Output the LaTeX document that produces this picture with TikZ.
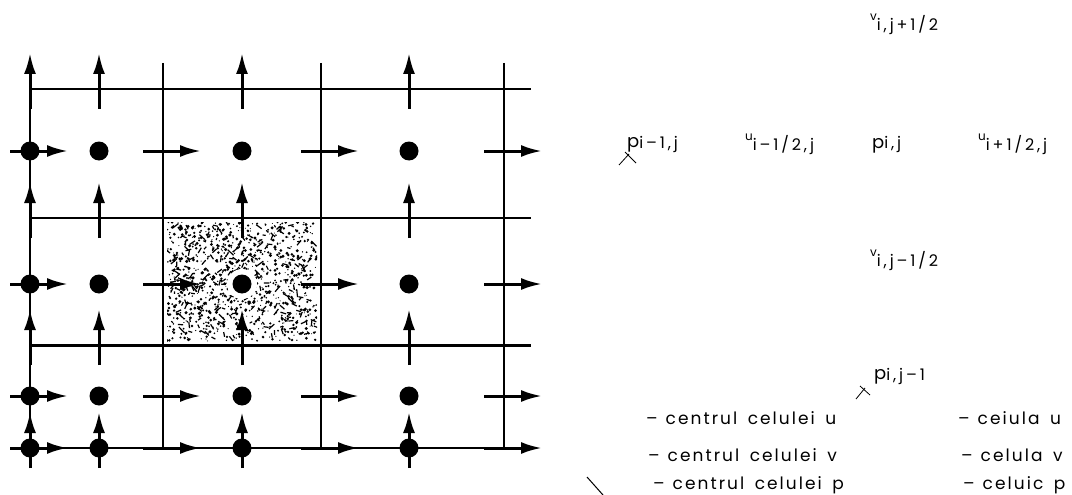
\documentclass[tikz,border=0pt]{standalone}
\usepackage{fontspec}
\setmainfont{Poppins}
\newfontfamily\cad[LetterSpace=18]{Poppins}
\newfontfamily\cadleg[LetterSpace=12,WordSpace=1.6]{Poppins}
\usetikzlibrary{arrows.meta}
\newcommand\Lsub[2]{{\fontsize{18}{18}\selectfont #1}{\fontsize{16}{16}\selectfont\raisebox{-1pt}{#2}}}
\newcommand\Lsup[2]{\raisebox{10pt}{\fontsize{12}{12}\selectfont #1}{\fontsize{16}{16}\selectfont #2}}
\tikzset{
  gridline/.style={line width=2pt},
  flow/.style={line width=3pt,-{Latex[length=21pt,width=12pt]}},
  lab/.style={anchor=base west,inner sep=0pt,font=\cad},
  leg/.style={anchor=base west,inner sep=0pt,font=\cadleg\fontsize{17}{17}\selectfont},
  xmark/.style={line width=0.8pt},
}
\begin{document}
\begin{tikzpicture}[x=1pt,y=-1pt]
\useasboundingbox (0,0) rectangle (1072,495);
% speckled cell
\pgfmathsetseed{11}
\begin{scope}
\clip (167,222) rectangle (317,341);
\foreach \k in {1,...,900}{
  \fill ({167+150*rnd},{222+119*rnd}) circle ({0.5+1.2*rnd});
}
\foreach \k in {1,...,250}{
  \draw[line width=1.2pt] ({170+145*rnd},{225+113*rnd}) -- ++({6*rand},{6*rand});
}
\end{scope}
\fill[white] (242,284) circle (15);
% grid lines
\draw[line width=2.5pt] (30,468) -- (30,60);
\foreach \y in {89,218}{\draw[gridline] (32,\y) -- (531,\y);}
\draw[line width=3pt] (32,345) -- (531,345);
\draw[line width=2.5pt] (10,448) -- (530,448);
\foreach \x in {163,321,504}{\draw[gridline] (\x,63) -- (\x,448);}
% v arrows
\foreach \c in {30,99,242,409}{
  \foreach \y in {89,218,345,448}{
    \draw[flow] (\c,\y+20) -- (\c,\y-36);
  }
}
% u arrows
\foreach \x in {30,163,321,504}{
  \foreach \r in {151,284,396,448}{
    \draw[flow] (\x-20,\r) -- (\x+38,\r);
  }
}
% p points
\foreach \c in {30,99,242,409}{
  \foreach \r in {151,284,396,448}{
    \fill (\c,\r) circle (9.5);
  }
}
% labels
\node[lab] (vup) at (870,31) {\Lsup{v}{i,j+1/2}};
\node[lab] (pim) at (627,147) {\Lsub{p}{i–1,j}};
\node[lab] (uim) at (745,150) {\Lsup{u}{i–1/2,j}};
\node[lab] (pij) at (872,148) {\Lsub{p}{i,j}};
\node[lab] (uip) at (978,150) {\Lsup{u}{i+1/2,j}};
\node[lab] (vdn) at (870,266) {\Lsup{v}{i,j–1/2}};
\node[lab] (pjm) at (874,379) {\Lsub{p}{i,j–1}};
\draw[xmark] (619,165) -- (629,154);
\draw[xmark] (625,152) -- (636,163);
\draw[xmark] (856,399) -- (865,388);
\draw[xmark] (860,386) -- (870,395);
% legend
\node[leg] (l1) at (646,424) {–\hspace{8pt}centrul celulei u};
\node[leg] (l2) at (648,461) {–\hspace{8pt}centrul celulei v};
\node[leg] (l3) at (653,489) {–\hspace{8pt}centrul celulei p};
\draw[line width=1pt] (587,477) -- (603,495);
\node[leg] (r1) at (958,424) {–\hspace{8pt}ceiula u};
\node[leg] (r2) at (961,461) {–\hspace{8pt}celula v};
\node[leg] (r3) at (963,489) {–\hspace{8pt}celuic p};
\end{tikzpicture}
\end{document}
